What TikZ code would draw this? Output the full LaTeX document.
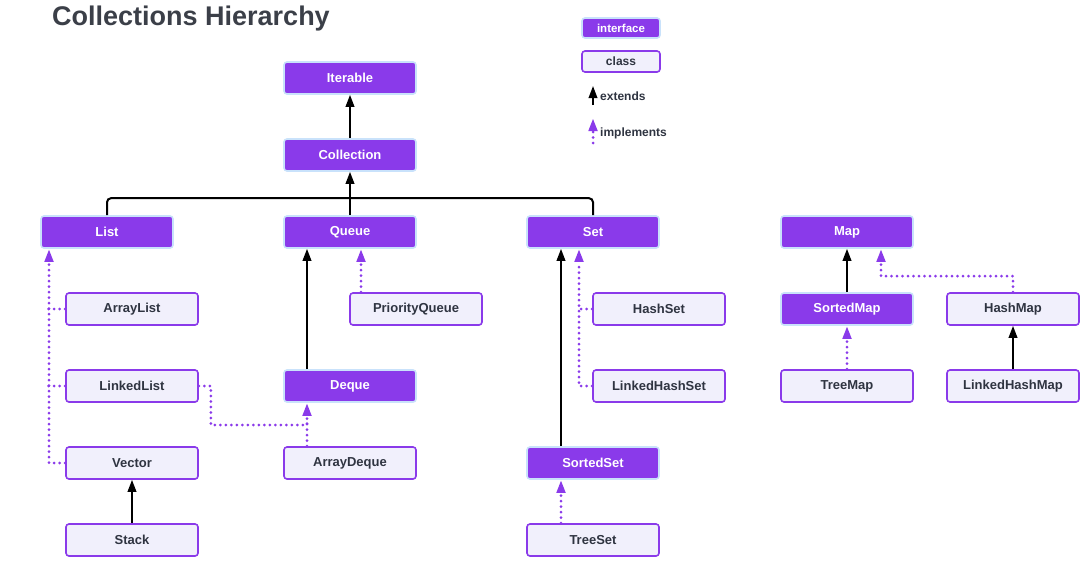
\documentclass[tikz,border=0pt]{standalone}
\usepackage{fontspec}
\setmainfont{Liberation Sans}
\usetikzlibrary{arrows.meta,calc}
\definecolor{ipurple}{HTML}{8A3AEA}
\definecolor{iborder}{HTML}{C9E2FB}
\definecolor{cfill}{HTML}{F1F0FC}
\definecolor{ctext}{HTML}{2F3441}
\definecolor{ttext}{HTML}{3B3F48}
\tikzset{
  iface/.style={draw=iborder, line width=1.6pt, fill=ipurple, rounded corners=3pt,
    minimum width=132pt, minimum height=32pt, inner sep=0pt, text=white,
    font=\fontsize{13}{15}\selectfont\bfseries},
  cls/.style={draw=ipurple, line width=1.6pt, fill=cfill, rounded corners=3pt,
    minimum width=132pt, minimum height=32pt, inner sep=0pt, text=ctext,
    font=\fontsize{13}{15}\selectfont\bfseries},
  ext/.style={draw=black, line width=2pt, -{Triangle[length=12pt,width=8.5pt]}},
  implnt/.style={draw=ipurple, line width=3pt, line cap=round, dash pattern=on 0pt off 5.5pt},
  impl/.style={implnt,
    -{Triangle[length=12pt,width=9.5pt,fill=ipurple,line width=0pt,sep=1pt]}},
  legtext/.style={text=ctext, font=\fontsize{12}{14}\selectfont\bfseries, inner sep=0pt, anchor=west},
}
\begin{document}
\begin{tikzpicture}[x=1pt,y=-1pt]
\useasboundingbox[fill=white] (0,0) rectangle (1092,565);
\node[anchor=west, text=ttext, font=\fontsize{27}{31}\selectfont\bfseries, inner sep=0pt] (title) at (52,19) {Collections Hierarchy};
% legend
\node[iface, minimum width=78pt, minimum height=20pt, font=\fontsize{11.5}{13}\selectfont\bfseries] (liface) at (621,28) {interface};
\node[cls, minimum width=78pt, minimum height=21pt, font=\fontsize{12}{14}\selectfont\bfseries] (lcls) at (621,61.5) {class};
\coordinate (le1) at (593,105);
\coordinate (le2) at (593,86);
\draw[ext] (le1) -- (le2);
\node[legtext] (lext) at (600,96) {extends};
\coordinate (li1) at (593,143);
\coordinate (li2) at (593,118);
\draw[impl] (li1) -- (li2);
\node[legtext] (limpl) at (600,133) {implements};
% nodes
\node[iface] (Iterable) at (350,78) {Iterable};
\node[iface] (Collection) at (350,155) {Collection};
\node[iface] (List) at (107,232) {List};
\node[iface] (Queue) at (350,232) {Queue};
\node[iface] (Set) at (593,232) {Set};
\node[iface] (Map) at (847,232) {Map};
\node[cls] (ArrayList) at (132,309) {ArrayList};
\node[cls] (PriorityQueue) at (416,309) {PriorityQueue};
\node[cls] (HashSet) at (659,309) {HashSet};
\node[iface] (SortedMap) at (847,309) {SortedMap};
\node[cls] (HashMap) at (1013,309) {HashMap};
\node[cls] (LinkedList) at (132,386) {LinkedList};
\node[iface] (Deque) at (350,386) {Deque};
\node[cls] (LinkedHashSet) at (659,386) {LinkedHashSet};
\node[cls] (TreeMap) at (847,386) {TreeMap};
\node[cls] (LinkedHashMap) at (1013,386) {LinkedHashMap};
\node[cls] (Vector) at (132,463) {Vector};
\node[cls] (ArrayDeque) at (350,463) {ArrayDeque};
\node[iface] (SortedSet) at (593,463) {SortedSet};
\node[cls] (Stack) at (132,540) {Stack};
\node[cls] (TreeSet) at (593,540) {TreeSet};
% extends
\draw[ext] (Collection) -- (Iterable);
\draw[line width=2pt, rounded corners=4pt] (List.north) -- ++(0,-17) -| (Set.north);
\draw[ext] (Queue.north) -- (Collection.south);
\draw[ext] ($(Deque.north)+(-43,0)$) -- ($(Queue.south)+(-43,0)$);
\draw[ext] (Stack) -- (Vector);
\draw[ext] ($(SortedSet.north)+(-32,0)$) -- ($(Set.south)+(-32,0)$);
\draw[ext] (SortedMap) -- (Map);
\draw[ext] (LinkedHashMap) -- (HashMap);
% implements
\draw[impl] ($(PriorityQueue.north)+(-55,0)$) -- ($(Queue.south)+(11,0)$);
\draw[impl] (Vector.west) -| ($(List.south)+(-58,0)$);
\draw[implnt] (ArrayList.west) -- ++(-17,0);
\draw[implnt] (LinkedList.west) -- ++(-17,0);
\draw[impl] ($(ArrayDeque.north)+(-43,0)$) -- ($(Deque.south)+(-43,0)$);
\draw[implnt] (LinkedList.east) -| ++(12,39) -| ($(ArrayDeque.north)+(-43,-24)$);
\draw[impl] (LinkedHashSet.west) -| ($(Set.south)+(-14,0)$);
\draw[implnt] (HashSet.west) -- ++(-14,0);
\draw[impl] ($(TreeSet.north)+(-32,0)$) -- ($(SortedSet.south)+(-32,0)$);
\draw[impl] (TreeMap) -- (SortedMap);
\draw[impl] (HashMap.north) -- ++(0,-16) -| ($(Map.south)+(34,0)$);
\end{tikzpicture}
\end{document}
